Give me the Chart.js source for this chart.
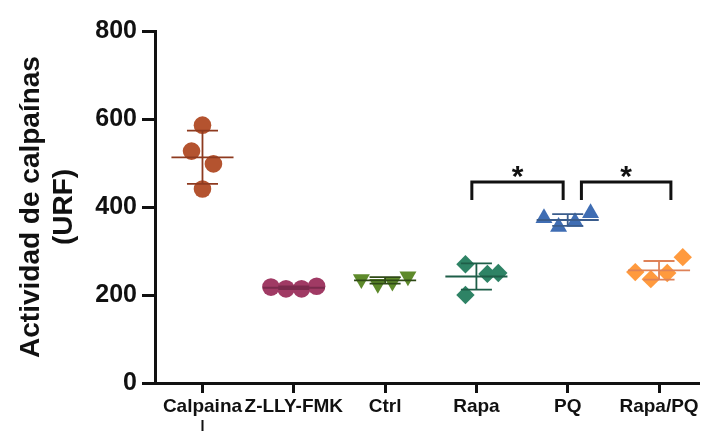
<!DOCTYPE html>
<html>
<head>
<meta charset="utf-8">
<script src="https://cdn.jsdelivr.net/npm/chart.js@4.4.1/dist/chart.umd.min.js"></script>
<style>
  html, body { margin: 0; padding: 0; background: #ffffff; }
  #wrap { width: 709px; height: 431px; }
</style>
</head>
<body>
<div id="wrap"><canvas id="c" width="709" height="431"></canvas></div>
<script>
// ---- data ----
const categories = ['Calpaina', 'Z-LLY-FMK', 'Ctrl', 'Rapa', 'PQ', 'Rapa/PQ'];
const calpaina = [586, 527, 498, 441];
const zLlyFmk  = [218, 214, 214, 220];
const ctrl     = [236, 225, 230, 242];
const rapa     = [270, 248, 250, 200];
const pq       = [375, 355, 366, 386];
const rapaPq   = [252, 236, 250, 286];
const yTicks   = [0, 200, 400, 600, 800];
const yTitle   = ['Actividad de calpaínas', '(URF)'];
const significance = [
  { from: 3, to: 4, label: '*' },
  { from: 4, to: 5, label: '*' }
];

// ---- layout / style (not data) ----
const groups = [calpaina, zLlyFmk, ctrl, rapa, pq, rapaPq];
const jitter = [
  [0, -0.12, 0.12, 0],
  [-0.25, -0.085, 0.085, 0.25],
  [-0.26, -0.08, 0.08, 0.25],
  [-0.12, 0.12, 0.24, -0.12],
  [-0.26, -0.10, 0.08, 0.25],
  [-0.26, -0.09, 0.09, 0.26]
];
const styles = [
  { fill: '#B4532F', line: '#8E3A1F', shape: 'circle',   radius: 8.8, rot: 0 },
  { fill: '#A03A64', line: '#7A2A4C', shape: 'circle',   radius: 8.8, rot: 0 },
  { fill: '#5E8A2B', line: '#2F4A16', shape: 'triangle', radius: 9.8, rot: 180 },
  { fill: '#2E8365', line: '#1E5E48', shape: 'rectRot',  radius: 9.2, rot: 0 },
  { fill: '#3F6DB3', line: '#3A5C8C', shape: 'triangle', radius: 9.8, rot: 0 },
  { fill: '#FF9A3E', line: '#DE8258', shape: 'rectRot',  radius: 9.2, rot: 0 }
];
const meanHalf = 0.34, capHalf = 0.17;
const bracketX = [[2.95, 3.95], [4.15, 5.13]];
const bracketTop = 457, bracketLow = 416;
const FONT = "'Liberation Sans', Arial, Helvetica, sans-serif";

function meanOf(a) { return a.reduce((s, v) => s + v, 0) / a.length; }
function sdOf(a) {
  const m = meanOf(a);
  return Math.sqrt(a.reduce((s, v) => s + (v - m) * (v - m), 0) / (a.length - 1));
}

const datasets = [];
groups.forEach((vals, i) => {
  const st = styles[i];
  const m = meanOf(vals), s = sdOf(vals);
  datasets.push({
    label: categories[i] + ' mean±SD',
    data: [
      { x: i - meanHalf, y: m }, { x: i + meanHalf, y: m }, { x: i, y: null },
      { x: i, y: m - s }, { x: i, y: m + s }, { x: i, y: null },
      { x: i - capHalf, y: m + s }, { x: i + capHalf, y: m + s }, { x: i, y: null },
      { x: i - capHalf, y: m - s }, { x: i + capHalf, y: m - s }
    ],
    showLine: true, spanGaps: false,
    borderColor: st.line, borderWidth: 1.8,
    pointRadius: 0, pointHoverRadius: 0,
    order: 0
  });
  datasets.push({
    label: categories[i],
    data: vals.map((v, j) => ({ x: i + jitter[i][j], y: v })),
    showLine: false,
    pointStyle: st.shape,
    pointRotation: st.rot,
    pointRadius: st.radius,
    pointHoverRadius: st.radius,
    backgroundColor: st.fill,
    borderColor: st.fill,
    borderWidth: 0,
    order: 1
  });
});

// significance brackets
const bracketData = [];
significance.forEach((sig, k) => {
  const [x0, x1] = bracketX[k];
  bracketData.push({ x: x0, y: bracketLow }, { x: x0, y: bracketTop },
                   { x: x1, y: bracketTop }, { x: x1, y: bracketLow }, { x: x1, y: null });
});
datasets.push({
  label: 'brackets',
  data: bracketData,
  showLine: true, spanGaps: false,
  borderColor: '#111111', borderWidth: 3,
  borderCapStyle: 'butt', borderJoinStyle: 'miter',
  pointRadius: 0, pointHoverRadius: 0,
  order: 0
});

const annot = {
  id: 'annot',
  afterDatasetsDraw(chart) {
    const { ctx, scales: { x, y } } = chart;
    ctx.save();
    ctx.fillStyle = '#111111';
    ctx.font = 'bold 30px ' + FONT;
    ctx.textAlign = 'center';
    ctx.textBaseline = 'alphabetic';
    significance.forEach((sig, k) => {
      const [x0, x1] = bracketX[k];
      ctx.fillText(sig.label, x.getPixelForValue((x0 + x1) / 2), y.getPixelForValue(bracketTop) + 4);
    });
    // small stray tick under first category (as in reference)
    ctx.strokeStyle = '#111111';
    ctx.lineWidth = 2;
    const px = Math.round(x.getPixelForValue(0)) + 0.5;
    ctx.beginPath();
    ctx.moveTo(px, chart.chartArea.bottom + 37);
    ctx.lineTo(px, chart.height);
    ctx.stroke();
    ctx.restore();
  }
};

new Chart(document.getElementById('c'), {
  type: 'scatter',
  data: { datasets },
  options: {
    responsive: false,
    animation: false,
    events: [],
    layout: { padding: { top: 31, right: 0, bottom: 0, left: 0 } },
    plugins: { legend: { display: false }, tooltip: { enabled: false } },
    scales: {
      x: {
        type: 'linear',
        min: -0.52,
        max: 5.44,
        afterBuildTicks(scale) { scale.ticks = categories.map((c, i) => ({ value: i })); },
        afterFit(scale) { scale.height = 48; },
        ticks: {
          autoSkip: false, maxRotation: 0, minRotation: 0,
          padding: 2,
          color: '#111111',
          font: { family: FONT, size: 19, weight: 'bold' },
          callback: (v) => categories[v]
        },
        grid: { drawOnChartArea: false, drawTicks: true, tickLength: 10, tickWidth: 3, tickColor: '#111111' },
        border: { display: true, color: '#111111', width: 3 }
      },
      y: {
        min: 0,
        max: 800,
        afterBuildTicks(scale) { scale.ticks = yTicks.map(v => ({ value: v })); },
        afterFit(scale) { scale.width = 155; },
        ticks: {
          padding: 5,
          color: '#111111',
          font: { family: FONT, size: 25, weight: 'bold' }
        },
        grid: { drawOnChartArea: false, drawTicks: true, tickLength: 13, tickWidth: 3, tickColor: '#111111' },
        border: { display: true, color: '#111111', width: 3 },
        title: {
          display: true,
          text: yTitle,
          color: '#111111',
          padding: { top: 14, bottom: 0 },
          font: { family: FONT, size: 28, weight: 'bold', lineHeight: 1.2 }
        }
      }
    }
  },
  plugins: [annot]
});
</script>
</body>
</html>
